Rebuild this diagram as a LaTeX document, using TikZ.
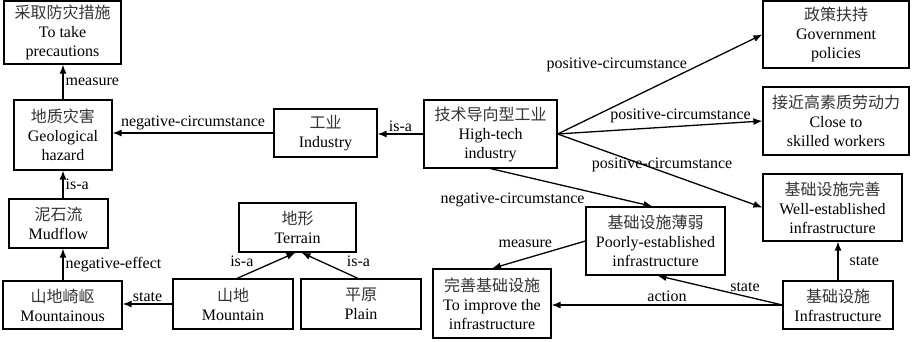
\documentclass[tikz,border=0pt]{standalone}
\usepackage{fontspec}
\setmainfont{Liberation Serif}
\newfontfamily\cjk{Noto Sans CJK SC}
\usetikzlibrary{arrows.meta}
\newcommand{\zhtext}[1]{{\color{black!80}\cjk #1}}
\begin{document}
\begin{tikzpicture}[x=1pt,y=-1pt,
  box/.style={draw, line width=1.2pt, align=center, inner sep=1pt, font=\fontsize{16}{19}\selectfont},
  arr/.style={line width=1.3pt, -{Latex[length=9pt,width=7pt]}},
  lab/.style={font=\fontsize{16}{19}\selectfont, inner sep=1pt}]
\useasboundingbox (0,0) rectangle (912,342);
\node[box, minimum width=117pt, minimum height=63pt] (take) at (62.5,32.5) {\zhtext{采取防灾措施}\\To take\\precautions};
\node[box, minimum width=98pt, minimum height=70pt] (geo) at (63,135) {\zhtext{地质灾害}\\Geological\\hazard};
\node[box, minimum width=99pt, minimum height=49pt] (mud) at (58.5,223.5) {\zhtext{泥石流}\\Mudflow};
\node[box, minimum width=119pt, minimum height=48pt] (mtns) at (62.5,305) {\zhtext{山地崎岖}\\Mountainous};
\node[box, minimum width=120pt, minimum height=50pt] (mtn) at (233,304) {\zhtext{山地}\\Mountain};
\node[box, minimum width=120pt, minimum height=50pt] (plain) at (361,304) {\zhtext{平原}\\Plain};
\node[box, minimum width=117pt, minimum height=49pt] (terrain) at (297.5,227.5) {\zhtext{地形}\\Terrain};
\node[box, minimum width=103pt, minimum height=48pt] (ind) at (325.5,133) {\zhtext{工业}\\Industry};
\node[box, minimum width=133pt, minimum height=68pt] (ht) at (490.5,134) {\zhtext{技术导向型工业}\\High-tech\\industry};
\node[box, minimum width=146pt, minimum height=67pt] (gov) at (836,34.5) {\zhtext{政策扶持}\\Government\\policies};
\node[box, minimum width=146pt, minimum height=68pt] (close) at (836,121) {\zhtext{接近高素质劳动力}\\Close to\\skilled workers};
\node[box, minimum width=139pt, minimum height=67pt] (well) at (832.5,207.5) {\zhtext{基础设施完善}\\Well-established\\infrastructure};
\node[box, minimum width=139pt, minimum height=68pt] (poor) at (655.5,241) {\zhtext{基础设施薄弱}\\Poorly-established\\infrastructure};
\node[box, minimum width=118pt, minimum height=69pt] (impr) at (492,303.5) {\zhtext{完善基础设施}\\To improve the\\infrastructure};
\node[box, minimum width=110pt, minimum height=48pt] (infra) at (838,305) {\zhtext{基础设施}\\Infrastructure};

\draw[arr] (geo.north) -- (geo.north |- take.south) node[lab, midway, right=1pt]{measure};
\draw[arr] (ind.west) -- (ind.west -| geo.east) node[lab, midway, above=1pt]{negative-circumstance};
\draw[arr] (ht.west) -- (ht.west -| ind.east) node[lab, midway, above=1pt]{is-a};
\draw[arr] (mud.north -| geo.south) -- (geo.south) node[lab, midway, right=1pt]{is-a};
\draw[arr] (mtns.north -| geo.south) -- (mud.south -| geo.south) node[lab, midway, right=1pt]{negative-effect};
\draw[arr] (mtn.west) -- (mtn.west -| mtns.east) node[lab, midway, above=1pt]{state};
\draw[arr] ([xshift=4pt]mtn.north) -- ([xshift=-2pt]terrain.south) node[lab, pos=0.65, left=20pt]{is-a};
\draw[arr] ([xshift=-3pt]plain.north) -- ([xshift=4pt]terrain.south) node[lab, pos=0.65, right=24pt]{is-a};
\draw[arr] (ht.east) -- (gov.west) node[lab, pos=0.64, anchor=south east, yshift=-3pt]{positive-circumstance};
\draw[arr] (ht.east) -- (close.west) node[lab, pos=0.6, above=2pt]{positive-circumstance};
\draw[arr] (ht.east) -- (well.west) node[lab, pos=0.51, above=-2.5pt]{positive-circumstance};
\draw[arr] (ht.south) -- ([xshift=-3pt]poor.north) node[lab, pos=0.59, anchor=north east]{negative-circumstance};
\draw[arr] (poor.west) -- (impr.north) node[lab, pos=0.34, anchor=south east, yshift=1pt]{measure};
\draw[arr] (infra.west) -- ([xshift=2pt]poor.south) node[lab, pos=0.3, above=3pt]{state};
\draw[arr] (infra.west) -- (infra.west -| impr.east) node[lab, midway, above=2pt]{action};
\draw[arr] (infra.north) -- (infra.north |- well.south) node[lab, midway, right=10pt]{state};
\end{tikzpicture}
\end{document}
